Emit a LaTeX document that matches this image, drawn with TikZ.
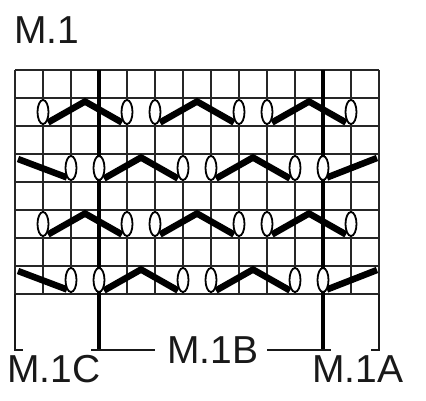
\documentclass[tikz,border=0pt]{standalone}
\usepackage{fontspec}
\setmainfont{Liberation Sans}
\usetikzlibrary{shapes.geometric}
\begin{document}
\begin{tikzpicture}[x=1pt,y=-1pt,
 gridline/.style={line width=1.8pt, draw=black!85},
 divider/.style={line width=3.4pt, draw=black},
 bracket/.style={line width=2.2pt, draw=black!90},
 yo/.style={ellipse, draw=black, fill=white, line width=1.8pt, minimum width=11pt, minimum height=24pt, inner sep=0pt},
 chev/.style={line width=6.5pt, line join=miter, draw=black},
 lbl/.style={font=\fontsize{39}{39}\selectfont, inner sep=0pt, anchor=base west, text=black!90}]
\useasboundingbox (0,0) rectangle (426,400);
% grid
\foreach \i in {0,...,13} \draw[gridline] (15+28*\i,70) -- (15+28*\i,294);
\foreach \j in {0,...,8} \draw[gridline] (15,70+28*\j) -- (379,70+28*\j);
% section dividers
\coordinate (d1t) at (99,70);  \coordinate (d1b) at (99,350);
\coordinate (d2t) at (323,70); \coordinate (d2b) at (323,350);
\draw[divider] (d1t) -- (d1b);
\draw[divider] (d2t) -- (d2b);
% brackets
\coordinate (lt) at (15,294); \coordinate (lb) at (15,350);
\coordinate (rt) at (379,294); \coordinate (rb) at (379,350);
\draw[bracket] (lt) -- (lb) -- ++(8,0);
\draw[bracket] (rt) -- (rb) -- ++(-8,0);
\draw[bracket] ([xshift=-8pt]d1b) -- (155,350);
\draw[bracket] (267,350) -- ([xshift=8pt]d2b);
% rows 2 and 6
\foreach \t in {98,210} {
  \foreach \a in {1,5,9}
    \draw[chev] (15+28*\a+5,\t+24.5) -- (15+28*\a+42,\t+3.5) -- (15+28*\a+79,\t+24.5);
  \foreach \a in {1,4,5,8,9,12}
    \node[yo] (o\t-\a) at (15+28*\a,\t+14) {};
}
% rows 4 and 8
\foreach \t in {154,266} {
  \foreach \a in {3,7}
    \draw[chev] (15+28*\a+5,\t+24.5) -- (15+28*\a+42,\t+3.5) -- (15+28*\a+79,\t+24.5);
  \draw[chev] (18,\t+5) -- (67,\t+23.5);
  \draw[chev] (327,\t+23.5) -- (377,\t+4);
  \foreach \a in {2,3,6,7,10,11}
    \node[yo] (o\t-\a) at (15+28*\a,\t+14) {};
}
% labels
\node[lbl] (title) at (14,43) {M.1};
\node[lbl] (lc) at (7,382) {M.1C};
\node[lbl] (lb2) at (167,363) {M.1B};
\node[lbl] (la) at (312,382) {M.1A};
\end{tikzpicture}
\end{document}
